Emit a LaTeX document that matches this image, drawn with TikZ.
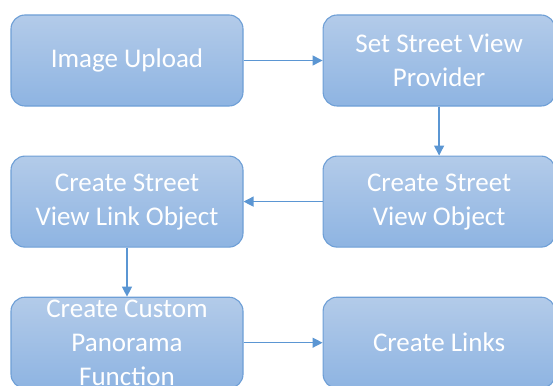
\documentclass[tikz,border=0pt]{standalone}
\usepackage{fontspec}
\setmainfont{Carlito}
\usetikzlibrary{arrows.meta,positioning}

\definecolor{boxtop}{HTML}{B3CBE9}
\definecolor{boxbottom}{HTML}{8EB4E2}
\definecolor{boxedge}{HTML}{6E9FD6}
\definecolor{linkblue}{HTML}{5B96D3}

\begin{document}
\begin{tikzpicture}[
    x=1pt, y=1pt,
    >={Triangle[length=10pt,width=10pt]},
    node distance=49pt and 79pt,
    stage/.style={draw=boxedge, line width=1.1pt, rounded corners=14pt, top color=boxtop, bottom color=boxbottom, text=white, align=center, minimum width=232pt, minimum height=91pt, inner sep=0pt, font=\fontsize{27}{34}\selectfont},
    flow/.style={->, draw=linkblue, fill=linkblue, line width=1.3pt}
]
\useasboundingbox (0,0) rectangle (553,-385);

\node[stage] (upload) at (127,-60.5) {Image Upload};
\node[stage, right=of upload] (provider) {Set Street View\\Provider};
\node[stage, below=of provider] (svobj) {Create Street\\View Object};
\node[stage, below=of upload] (linkobj) {Create Street\\View Link Object};
\node[stage, below=of linkobj] (panorama) {Create Custom\\Panorama\\Function};
\node[stage, right=of panorama] (links) {Create Links};

\draw[flow] (upload) -- (provider);
\draw[flow] (provider) -- (svobj);
\draw[flow] (svobj) -- (linkobj);
\draw[flow] (linkobj) -- (panorama);
\draw[flow] (panorama) -- (links);
\end{tikzpicture}
\end{document}
